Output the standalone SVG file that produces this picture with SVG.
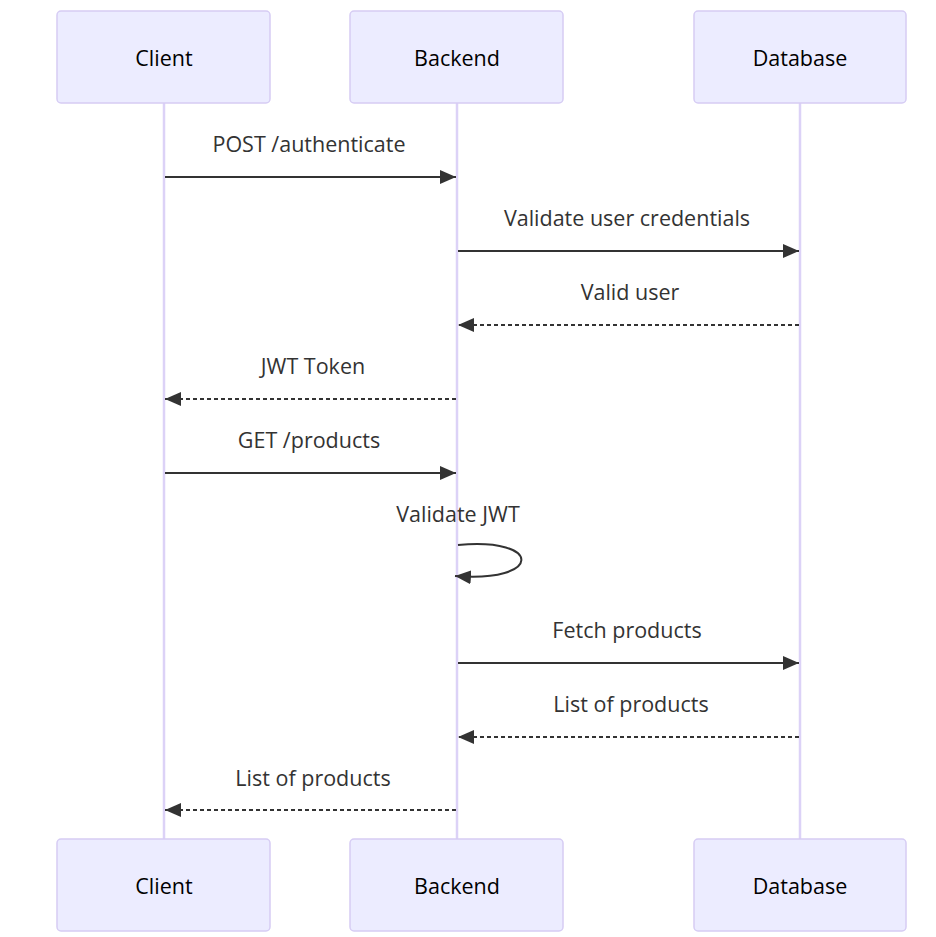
<svg xmlns="http://www.w3.org/2000/svg" width="936" height="937" viewBox="0 0 936 937">
<style>
.actor{fill:#ECECFF;stroke:#D6CCF4;stroke-width:1.5}
.life{stroke:#DCD2F7;stroke-width:2.5}
.atext{font-family:"Open Sans","Noto Sans",sans-serif;font-size:21.5px;fill:#000;text-anchor:middle;dominant-baseline:central}
.mtext{font-family:"Open Sans","Noto Sans",sans-serif;font-size:21.5px;fill:#333;text-anchor:middle}
.msg{stroke:#333;stroke-width:2;fill:none}
.dash{stroke-dasharray:4 3}
</style>
<defs>
<marker id="arrow" markerWidth="16" markerHeight="14" refX="16" refY="7" orient="auto" markerUnits="userSpaceOnUse" viewBox="0 0 16 14">
<path d="M 0 0 L 16 7 L 0 14 z" fill="#333"/>
</marker>
</defs>
<g id="lifelines">
<line class="life" x1="164" y1="103" x2="164" y2="839"/>
<line class="life" x1="457" y1="103" x2="457" y2="839"/>
<line class="life" x1="800" y1="103" x2="800" y2="839"/>
</g>
<g id="client-top"><rect class="actor" x="57" y="11" width="213" height="92" rx="4"/><text class="atext" x="164" y="57">Client</text></g>
<g id="backend-top"><rect class="actor" x="350" y="11" width="213" height="92" rx="4"/><text class="atext" x="457" y="57">Backend</text></g>
<g id="database-top"><rect class="actor" x="694" y="11" width="212" height="92" rx="4"/><text class="atext" x="800" y="57">Database</text></g>
<g id="client-bottom"><rect class="actor" x="57" y="839" width="213" height="92" rx="4"/><text class="atext" x="164" y="885">Client</text></g>
<g id="backend-bottom"><rect class="actor" x="350" y="839" width="213" height="92" rx="4"/><text class="atext" x="457" y="885">Backend</text></g>
<g id="database-bottom"><rect class="actor" x="694" y="839" width="212" height="92" rx="4"/><text class="atext" x="800" y="885">Database</text></g>
<g id="connectors">
<line class="msg" x1="165" y1="177" x2="456" y2="177" marker-end="url(#arrow)"/>
<line class="msg" x1="458" y1="251" x2="799" y2="251" marker-end="url(#arrow)"/>
<line class="msg dash" x1="799" y1="325" x2="458" y2="325" marker-end="url(#arrow)"/>
<line class="msg dash" x1="456" y1="399" x2="165" y2="399" marker-end="url(#arrow)"/>
<line class="msg" x1="165" y1="473" x2="456" y2="473" marker-end="url(#arrow)"/>
<path class="msg" d="M 458,545 C 543,537 543,583 455,576" marker-end="url(#arrow)"/>
<line class="msg" x1="458" y1="663" x2="799" y2="663" marker-end="url(#arrow)"/>
<line class="msg dash" x1="799" y1="737" x2="458" y2="737" marker-end="url(#arrow)"/>
<line class="msg dash" x1="456" y1="810" x2="165" y2="810" marker-end="url(#arrow)"/>
</g>
<g id="labels">
<text class="mtext" x="309" y="152">POST /authenticate</text>
<text class="mtext" x="627" y="226">Validate user credentials</text>
<text class="mtext" x="630" y="300">Valid user</text>
<text class="mtext" x="313" y="374">JWT Token</text>
<text class="mtext" x="309" y="448">GET /products</text>
<text class="mtext" x="458" y="522">Validate JWT</text>
<text class="mtext" x="627" y="638">Fetch products</text>
<text class="mtext" x="631" y="712">List of products</text>
<text class="mtext" x="313" y="786">List of products</text>
</g>
</svg>
